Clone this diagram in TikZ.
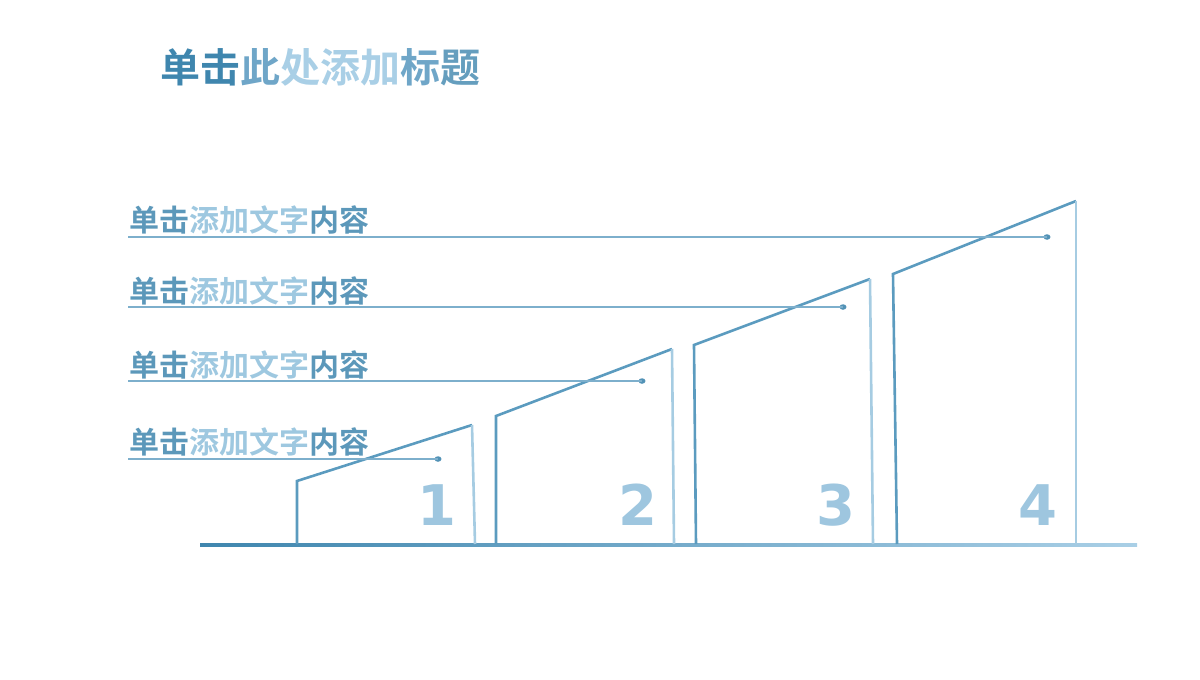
\documentclass[tikz,border=0pt]{standalone}
\usepackage{fontspec}
\newfontfamily\cjk{Noto Sans CJK SC Bold}
\newfontfamily\numf{DejaVu Sans}
\definecolor{dk}{HTML}{3F86AE}
\definecolor{md}{HTML}{6FA6C8}
\definecolor{lt}{HTML}{A9CFE6}
\definecolor{boxd}{HTML}{5B9BBF}
\definecolor{boxl}{HTML}{A6CCE2}
\definecolor{lbl}{HTML}{7DAFCC}
\definecolor{num}{HTML}{9EC6DF}
\tikzset{
  boxline/.style={line width=2.6pt, boxd, line join=miter},
  boxright/.style={line width=2.6pt, boxl},
  leader/.style={line width=1.4pt, lbl},
  dotmark/.style={ellipse, fill=dk!90, inner sep=0pt, minimum width=7pt, minimum height=5.5pt},
  label/.style={anchor=west, inner sep=0pt, font=\cjk\fontsize{30}{30}\selectfont},
  numlabel/.style={inner sep=0pt, font=\numf\bfseries\fontsize{56}{56}\selectfont, text=num}
}
\usetikzlibrary{shapes.geometric}
\begin{document}
\begin{tikzpicture}[x=1pt,y=-1pt]
\useasboundingbox (0,0) rectangle (1200,680);
% title
\node[anchor=west, inner sep=0pt, font=\cjk\fontsize{40}{40}\selectfont] (title) at (160,67)
  {\textcolor{dk}{单击}\textcolor{md}{此}\textcolor{lt}{处添加}\textcolor{md}{标}\textcolor{dk!80}{题}};
% baseline
\shade[left color=dk, right color=lt] (200,543.5) rectangle (1137,546.5);
% boxes
\coordinate (b1a) at (297,544); \coordinate (b1b) at (297,481); \coordinate (b1c) at (472,425); \coordinate (b1d) at (475,544);
\coordinate (b2a) at (496,544); \coordinate (b2b) at (496,416); \coordinate (b2c) at (672,349); \coordinate (b2d) at (674,544);
\coordinate (b3a) at (696,544); \coordinate (b3b) at (694,345); \coordinate (b3c) at (870,279); \coordinate (b3d) at (873,544);
\coordinate (b4a) at (897,544); \coordinate (b4b) at (893,274); \coordinate (b4c) at (1076,201); \coordinate (b4d) at (1076,544);
\foreach \i in {1,2,3,4}{
  \draw[boxline] (b\i a) -- (b\i b) -- (b\i c);
  \draw[boxright] (b\i c) -- (b\i d);
}
% numbers
\node[numlabel] (n1) at (437,505) {1};
\node[numlabel] (n2) at (638,505) {2};
\node[numlabel] (n3) at (836,505) {3};
\node[numlabel] (n4) at (1038,505) {4};
% labels and leaders
\newcommand{\lbltext}{\textcolor{dk!85}{单击}\textcolor{lt!90!dk}{添加文字}\textcolor{dk!85}{内容}}
\node[label] (t1) at (129,442) {\lbltext};
\node[label] (t2) at (129,365) {\lbltext};
\node[label] (t3) at (129,291) {\lbltext};
\node[label] (t4) at (129,220) {\lbltext};
\coordinate (s1) at (128,459); \node[dotmark] (d1) at (438,459) {};
\coordinate (s2) at (128,381); \node[dotmark] (d2) at (642,381) {};
\coordinate (s3) at (128,307); \node[dotmark] (d3) at (843,307) {};
\coordinate (s4) at (128,237); \node[dotmark] (d4) at (1047,237) {};
\foreach \i in {1,2,3,4}{ \draw[leader] (s\i) -- (d\i.center); }
\end{tikzpicture}
\end{document}
